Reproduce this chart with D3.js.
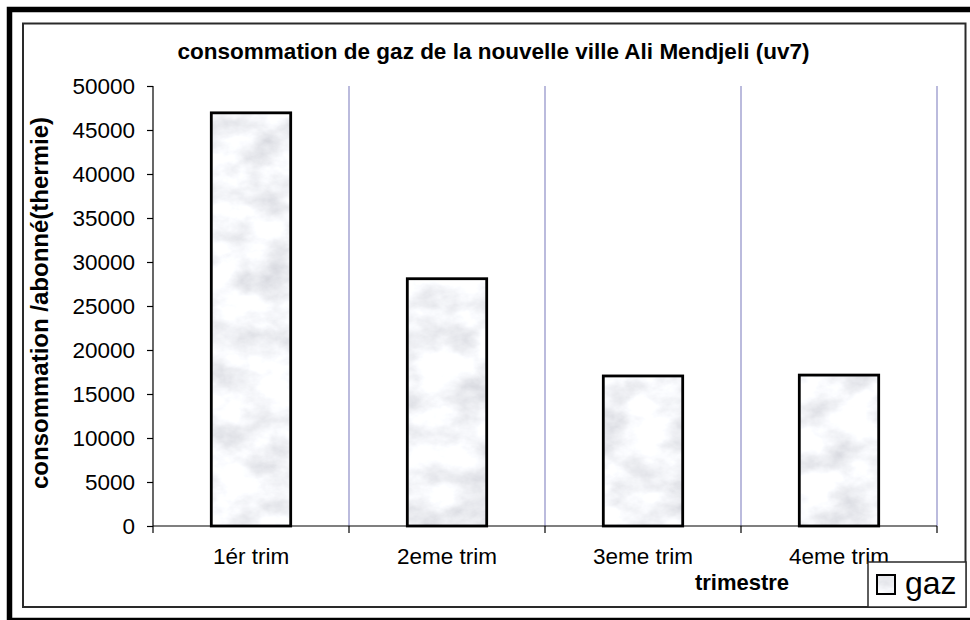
<!DOCTYPE html>
<html>
<head>
<meta charset="utf-8">
<script src="https://cdn.jsdelivr.net/npm/d3@7/dist/d3.min.js"></script>
<style>
  html, body { margin: 0; padding: 0; background: #fff; }
  svg { display: block; font-family: Arial, "Liberation Sans", sans-serif; }
</style>
</head>
<body>
<script>
// ---- data ----
const categories = ["1ér trim", "2eme trim", "3eme trim", "4eme trim"];
const gazValues = [46950, 28100, 17050, 17150];
const yTicks = [0, 5000, 10000, 15000, 20000, 25000, 30000, 35000, 40000, 45000, 50000];
const seriesName = "gaz";
const chartTitle = "consommation de gaz de la nouvelle ville Ali Mendjeli (uv7)";
const yTitle = "consommation /abonné(thermie)";
const xTitle = "trimestre";

const W = 970, H = 620;
const svg = d3.select("body").append("svg").attr("width", W).attr("height", H);

// marble-like texture filter, clipped to the shape
const defs = svg.append("defs");
const f = defs.append("filter").attr("id", "marble")
  .attr("filterUnits", "userSpaceOnUse")
  .attr("x", 0).attr("y", 0).attr("width", W).attr("height", H);
f.append("feTurbulence").attr("type", "fractalNoise")
  .attr("baseFrequency", "0.024 0.034").attr("numOctaves", 5).attr("seed", 11).attr("result", "n");
f.append("feColorMatrix").attr("in", "n").attr("type", "matrix")
  .attr("values", [
    -0.62, 0, 0, 0, 1.22,
    -0.62, 0, 0, 0, 1.23,
    -0.58, 0, 0, 0, 1.24,
    0, 0, 0, 0, 1
  ].join(" ")).attr("result", "c");
f.append("feComposite").attr("in", "c").attr("in2", "SourceGraphic").attr("operator", "in");

const x0 = 153, x1 = 937, yTop = 86, yBase = 526;

const x = d3.scaleBand().domain(categories).range([x0, x1]).padding(0);
const y = d3.scaleLinear().domain([0, 50000]).range([yBase, yTop]);
const barW = x.bandwidth() * 0.405;

// outer frame
svg.append("rect").attr("x", 9.5).attr("y", 9.5).attr("width", 966).attr("height", 611)
  .attr("fill", "none").attr("stroke", "#000").attr("stroke-width", 5.5);
// inner frame
svg.append("rect").attr("x", 23).attr("y", 23.5).attr("width", 942.5).attr("height", 583.5)
  .attr("fill", "#fff").attr("stroke", "#2a2a2a").attr("stroke-width", 2);

// vertical gridlines at category boundaries
const bounds = categories.map(c => x(c) + x.bandwidth());
svg.append("g").selectAll("line").data(bounds).join("line")
  .attr("x1", d => d).attr("x2", d => d)
  .attr("y1", y(50000)).attr("y2", y(0))
  .attr("stroke", "#a4a4d2").attr("stroke-width", 1.5);

// bars
const bars = svg.append("g");
categories.forEach((c, i) => {
  const bx = x(c) + (x.bandwidth() - barW) / 2;
  const by = y(gazValues[i]);
  const bh = y(0) - by;
  bars.append("rect").attr("x", bx).attr("y", by).attr("width", barW).attr("height", bh)
    .attr("fill", "#e6e8ec").attr("filter", "url(#marble)");
  bars.append("rect").attr("x", bx).attr("y", by).attr("width", barW).attr("height", bh)
    .attr("fill", "none").attr("stroke", "#000").attr("stroke-width", 2.8);
});

// y axis
const yAxis = d3.axisLeft(y).tickValues(yTicks).tickSize(6).tickPadding(12).tickFormat(d3.format("d"));
const gy = svg.append("g").attr("transform", `translate(${x0},0)`).call(yAxis);
gy.select(".domain").remove();
gy.append("line").attr("x1", 0).attr("x2", 0).attr("y1", y(50000)).attr("y2", y(0) + 7)
  .attr("stroke", "#000").attr("stroke-width", 1.2);
gy.selectAll(".tick line").attr("stroke", "#000").attr("stroke-width", 1.2);
gy.selectAll(".tick text").attr("font-size", "22.5px").attr("fill", "#000")
  .attr("font-family", "Arial, 'Liberation Sans', sans-serif");

// x axis
const xAxis = d3.axisBottom(x).tickSize(0).tickPadding(22);
const gx = svg.append("g").attr("transform", `translate(0,${yBase})`).call(xAxis);
gx.select(".domain").remove();
gx.append("line").attr("x1", x0).attr("x2", x1).attr("y1", 0).attr("y2", 0)
  .attr("stroke", "#000").attr("stroke-width", 1.2);
gx.selectAll(".bt").data(bounds).join("line").attr("class", "bt")
  .attr("x1", d => d).attr("x2", d => d).attr("y1", 0).attr("y2", 7)
  .attr("stroke", "#000").attr("stroke-width", 1.2);
gx.selectAll(".tick text").attr("font-size", "22.5px").attr("fill", "#000")
  .attr("font-family", "Arial, 'Liberation Sans', sans-serif");

// titles
svg.append("text").attr("x", 493.5).attr("y", 59).attr("text-anchor", "middle")
  .attr("font-weight", "bold").attr("font-size", "22.5px").text(chartTitle);
svg.append("text").attr("transform", "translate(48,303) rotate(-90)").attr("text-anchor", "middle")
  .attr("font-weight", "bold").attr("font-size", "24px").text(yTitle);
svg.append("text").attr("x", 742).attr("y", 590).attr("text-anchor", "middle")
  .attr("font-weight", "bold").attr("font-size", "22px").text(xTitle);

// legend
const lg = svg.append("g");
lg.append("rect").attr("x", 868).attr("y", 562).attr("width", 98).attr("height", 45)
  .attr("fill", "#fff").attr("stroke", "#2a2a2a").attr("stroke-width", 1.5);
lg.append("rect").attr("x", 877).attr("y", 575).attr("width", 18).attr("height", 19)
  .attr("fill", "#e6e8ec").attr("filter", "url(#marble)");
lg.append("rect").attr("x", 877).attr("y", 575).attr("width", 18).attr("height", 19)
  .attr("fill", "none").attr("stroke", "#000").attr("stroke-width", 2);
lg.append("text").attr("x", 905).attr("y", 594).attr("font-size", "32px").text(seriesName);
</script>
</body>
</html>
